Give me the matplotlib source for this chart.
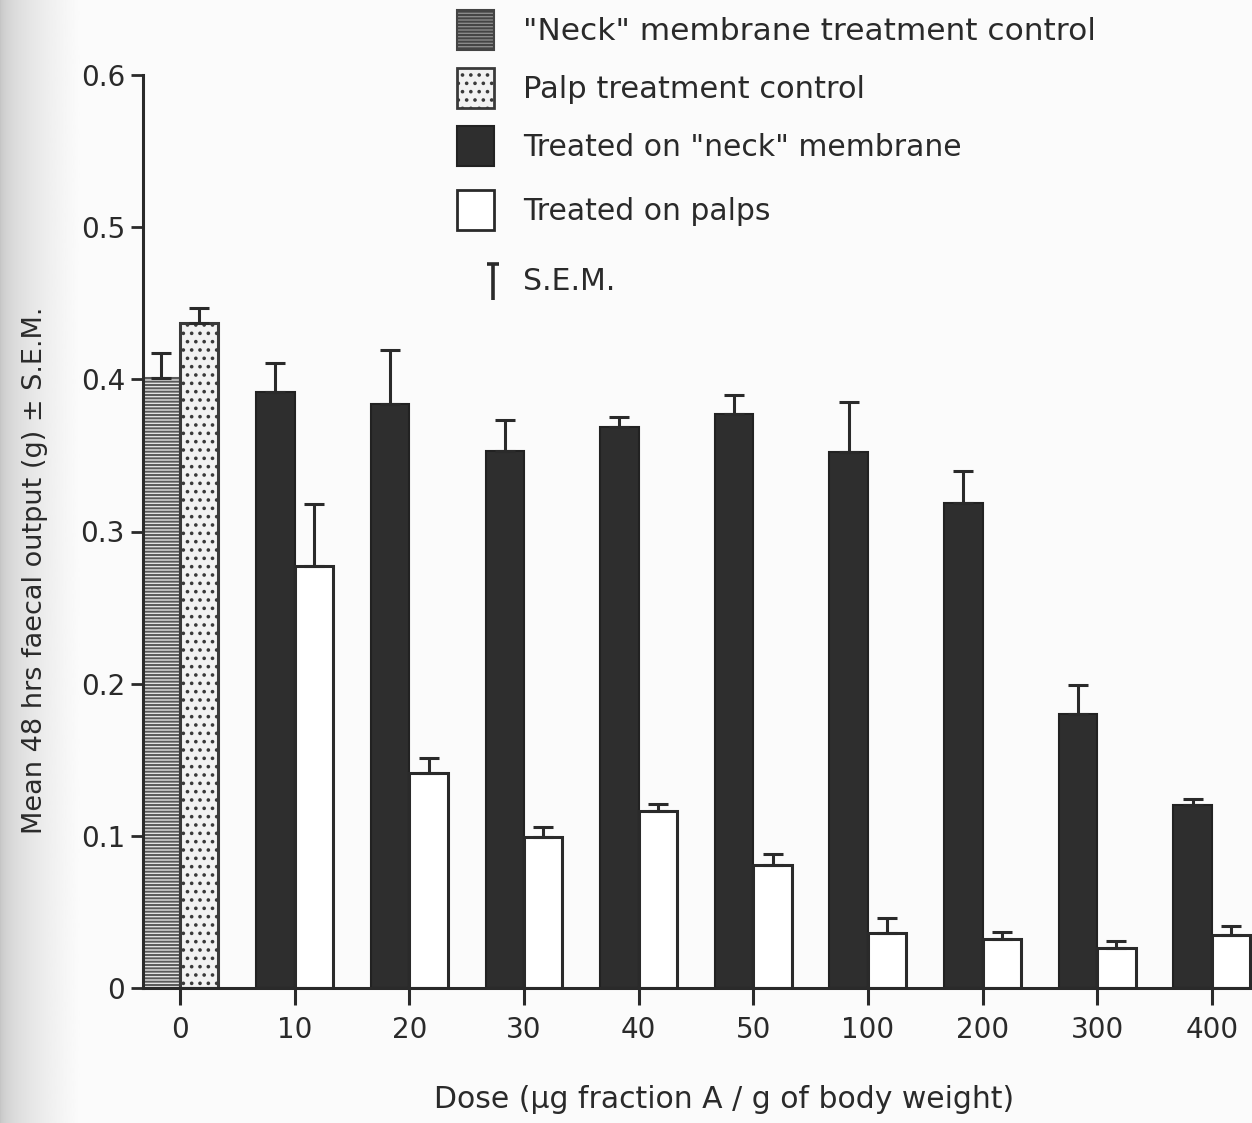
#!/usr/bin/env python3
# faecal output vs dose - bar chart with one-sided SEM bars
import matplotlib
matplotlib.use("Agg")
import matplotlib.pyplot as plt
from matplotlib.patches import Rectangle
import numpy as np

INK = "#2a2a2a"
PAPER = "#fbfbfb"

plt.rcParams.update({
    "font.family": ["DejaVu Sans"],
    "text.color": INK,
    "axes.edgecolor": INK,
    "xtick.color": INK,
    "ytick.color": INK,
    "hatch.linewidth": 1.4,
})

# data
doses = ["0", "10", "20", "30", "40", "50", "100", "200", "300", "400"]
neck_ctrl, neck_ctrl_err = 0.401, 0.016
palp_ctrl, palp_ctrl_err = 0.437, 0.010
neck_treated = [0.392, 0.384, 0.353, 0.369, 0.377, 0.352, 0.319, 0.180, 0.120]
neck_err     = [0.019, 0.035, 0.020, 0.006, 0.013, 0.033, 0.021, 0.019, 0.004]
palp_treated = [0.277, 0.141, 0.099, 0.116, 0.081, 0.036, 0.032, 0.026, 0.035]
palp_err     = [0.041, 0.010, 0.007, 0.005, 0.007, 0.010, 0.005, 0.005, 0.006]

legend_labels = ['"Neck" membrane treatment control', "Palp treatment control",
                 'Treated on "neck" membrane', "Treated on palps", "S.E.M."]

fig = plt.figure(figsize=(12.52, 11.23), dpi=100, facecolor=PAPER)

# soft scan shading on the left edge (fades into the paper colour)
bg = fig.add_axes([0, 0, 80/1252, 1], zorder=-5)
grad = np.sqrt(np.linspace(0, 1, 200))[None, :]
bg.imshow(grad, cmap="gray", vmin=-3.5, vmax=1.072, aspect="auto",
          extent=[0, 80, 0, 1])
bg.axis("off")

ax = fig.add_axes([143/1252, 1-988/1123, (1252-143)/1252, 913/1123])
ax.set_facecolor("none")

x = np.arange(len(doses))
w = 0.335
off = 0.168

err_kw = dict(fmt="none", ecolor=INK, elinewidth=2.2, capsize=7, capthick=2.2)

# controls at dose 0
ax.bar(x[0]-off, neck_ctrl, w, facecolor="#e2e2e2", edgecolor="#5a5a5a",
       hatch="-----", linewidth=1.5, zorder=2)
ax.bar(x[0]+off, palp_ctrl, w, facecolor="#f2f2f2", edgecolor="#3a3a3a",
       hatch="..", linewidth=2.2, zorder=2)
ax.errorbar([x[0]-off], [neck_ctrl], yerr=[[0], [neck_ctrl_err]], **err_kw)
ax.errorbar([x[0]+off], [palp_ctrl], yerr=[[0], [palp_ctrl_err]], **err_kw)

# treated groups
xt = x[1:]
ax.bar(xt-off, neck_treated, w, facecolor="#2e2e2e", edgecolor="#222222",
       linewidth=1.5, zorder=2)
ax.bar(xt+off, palp_treated, w, facecolor="white", edgecolor=INK,
       linewidth=2.2, zorder=2)
ax.errorbar(xt-off, neck_treated, yerr=[np.zeros(len(xt)), neck_err], **err_kw)
ax.errorbar(xt+off, palp_treated, yerr=[np.zeros(len(xt)), palp_err], **err_kw)

ax.set_xlim(-0.323, 9.35)
ax.set_ylim(0, 0.6)
ax.set_xticks(x)
ax.set_xticklabels(doses, fontsize=20)
ax.set_yticks([0, 0.1, 0.2, 0.3, 0.4, 0.5, 0.6])
ax.set_yticklabels(["0", "0.1", "0.2", "0.3", "0.4", "0.5", "0.6"], fontsize=20)
ax.tick_params(axis="x", direction="out", length=12, width=2.2, pad=8)
ax.tick_params(axis="y", direction="out", length=9, width=2, pad=4)
for s in ["top", "right"]:
    ax.spines[s].set_visible(False)
ax.spines["left"].set_linewidth(2.2)
ax.spines["bottom"].set_linewidth(2.2)

fig.text(35/1252, 1-570/1123, "Mean 48 hrs faecal output (g) \u00b1 S.E.M.",
         rotation=90, ha="center", va="center", fontsize=19.5)
fig.text(724/1252, 1-1100/1123, "Dose (\u00b5g fraction A / g of body weight)",
         ha="center", va="center", fontsize=21.5)

# legend drawn by hand in pixel coords
lg = fig.add_axes([0, 0, 1, 1], facecolor="none")
lg.set_xlim(0, 1252); lg.set_ylim(1123, 0); lg.axis("off")
styles = [dict(facecolor="#8a8a8a", edgecolor="#444444", hatch="-----", lw=1.5),
          dict(facecolor="#f2f2f2", edgecolor="#3a3a3a", hatch="..", lw=2),
          dict(facecolor="#2e2e2e", edgecolor="#222222", lw=1.5),
          dict(facecolor="white", edgecolor=INK, lw=2)]
tops = [10, 68, 126, 190]
sizes = [22.5, 22, 21.5, 21.5]
for st, top, lab, fs in zip(styles, tops, legend_labels[:4], sizes):
    lg.add_patch(Rectangle((457, top), 37, 40, **st))
    lg.text(523, top+21, lab, ha="left", va="center", fontsize=fs)
lg.vlines(493, 264, 300, color=INK, lw=2.6)
lg.hlines(264, 487, 499, color=INK, lw=2.6)
lg.text(523, 282, legend_labels[4], ha="left", va="center", fontsize=21.5)

fig.savefig("out.png", dpi=100, facecolor=PAPER)
